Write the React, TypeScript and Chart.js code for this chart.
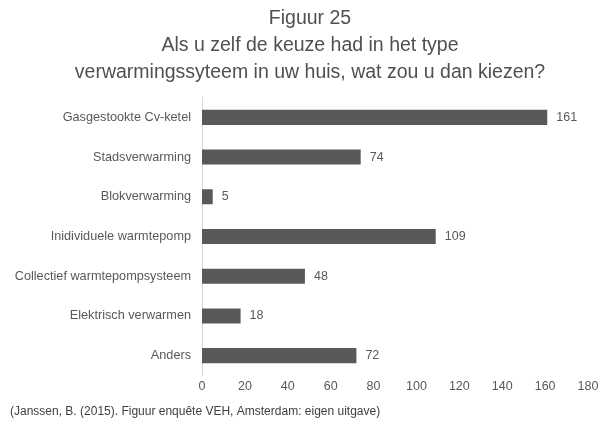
import React, { useEffect, useRef } from "react";
import { Chart, registerables } from "chart.js";

Chart.register(...registerables);

const categories = [
  "Gasgestookte Cv-ketel",
  "Stadsverwarming",
  "Blokverwarming",
  "Inidividuele warmtepomp",
  "Collectief warmtepompsysteem",
  "Elektrisch verwarmen",
  "Anders",
];
const values = [161, 74, 5, 109, 48, 18, 72];
const xTicks = [0, 20, 40, 60, 80, 100, 120, 140, 160, 180];
const titleLines = [
  "Figuur 25",
  "Als u zelf de keuze had in het type",
  "verwarmingssyteem in uw huis, wat zou u dan kiezen?",
];
const sourceText = "(Janssen, B. (2015). Figuur enquête VEH, Amsterdam: eigen uitgave)";

const FONT = "'Liberation Sans', Arial, sans-serif";

export default function App() {
  const ref = useRef<HTMLCanvasElement | null>(null);

  useEffect(() => {
    if (!ref.current) return;
    const valueLabels = {
      id: "valueLabels",
      afterDatasetsDraw(chart: any) {
        const ctx = chart.ctx;
        const meta = chart.getDatasetMeta(0);
        ctx.save();
        ctx.font = `12.5px ${FONT}`;
        ctx.fillStyle = "#595959";
        ctx.textAlign = "left";
        ctx.textBaseline = "middle";
        meta.data.forEach((el: any, i: number) => {
          ctx.fillText(String(values[i]), el.x + 9, el.y);
        });
        ctx.restore();
      },
    };
    const texts = {
      id: "extraTexts",
      afterDraw(chart: any) {
        const ctx = chart.ctx;
        ctx.save();
        ctx.font = `19.5px ${FONT}`;
        ctx.fillStyle = "#505050";
        ctx.textAlign = "center";
        ctx.textBaseline = "middle";
        titleLines.forEach((line, i) => {
          ctx.fillText(line, 310, 18.5 + i * 27);
        });
        ctx.font = `12px ${FONT}`;
        ctx.fillStyle = "#404040";
        ctx.textAlign = "left";
        ctx.fillText(sourceText, 10, 412);
        ctx.restore();
      },
    };
    const chart = new Chart(ref.current, {
      type: "bar",
      data: {
        labels: categories,
        datasets: [
          {
            data: values,
            backgroundColor: "#595959",
            borderWidth: 0,
            barPercentage: 0.38,
            categoryPercentage: 1,
          },
        ],
      },
      options: {
        indexAxis: "y",
        animation: false,
        responsive: false,
        maintainAspectRatio: false,
        layout: { padding: { left: 0, right: 12, top: 97.5, bottom: 24 } },
        plugins: {
          legend: { display: false },
          tooltip: { enabled: false },
          title: { display: false },
        },
        scales: {
          x: {
            min: 0,
            max: 180,
            afterBuildTicks: (scale: any) => {
              scale.ticks = xTicks.map((v) => ({ value: v }));
            },
            afterFit: (scale: any) => {
              scale.height = 22.5;
              scale.paddingLeft = 0;
              scale.paddingRight = 0;
            },
            grid: { display: false, drawTicks: false },
            border: { display: false },
            ticks: {
              color: "#595959",
              padding: 4,
              font: { family: FONT, size: 12.5 },
              maxRotation: 0,
            },
          },
          y: {
            afterFit: (scale: any) => {
              scale.width = 202;
            },
            grid: { display: false, drawTicks: false },
            border: { display: true, color: "#d9d9d9", width: 1 },
            ticks: {
              color: "#595959",
              padding: 11,
              font: { family: FONT, size: 12.7 },
            },
          },
        },
      },
      plugins: [valueLabels, texts],
    });
    return () => chart.destroy();
  }, []);

  return (
    <div style={{ position: "absolute", left: 0, top: 0, width: 600, height: 422, background: "#fff" }}>
      <canvas ref={ref} width={600} height={422} style={{ display: "block" }} />
    </div>
  );
}
